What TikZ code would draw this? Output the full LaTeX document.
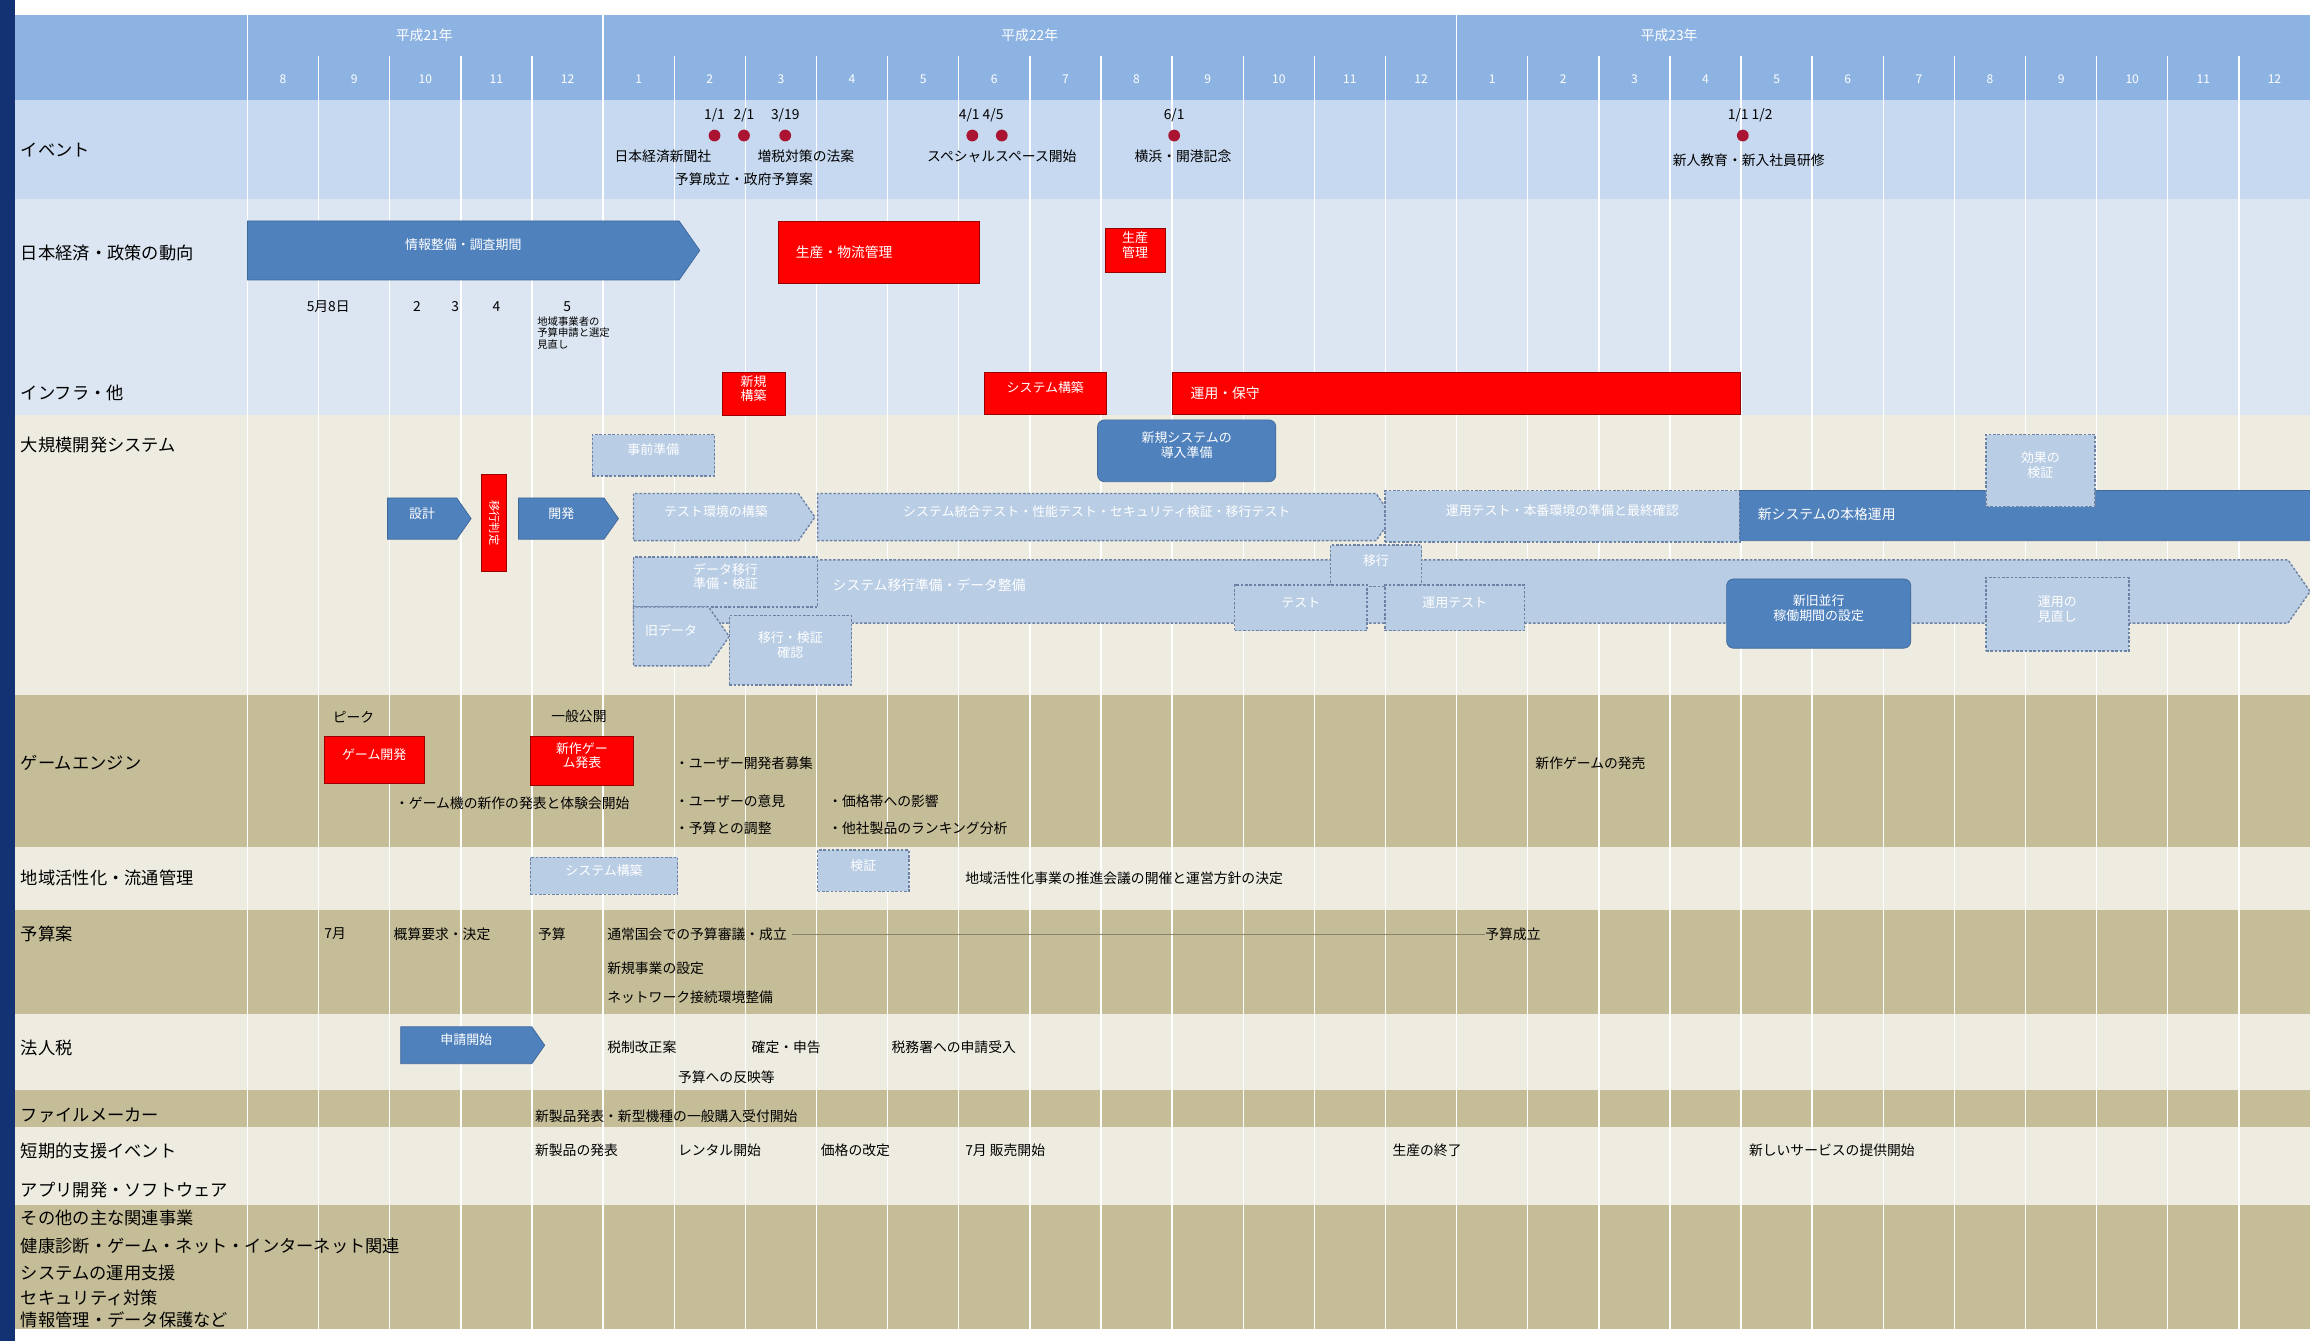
\documentclass[tikz,border=0pt]{standalone}
\usepackage{fontspec}
\setmainfont{Noto Sans CJK JP}
\usetikzlibrary{shapes.symbols,shapes.misc,positioning,fit}

\definecolor{navy}{RGB}{18,50,116}
\definecolor{hdrblue}{RGB}{141,179,226}
\definecolor{evtblue}{RGB}{198,217,240}
\definecolor{skyblue}{RGB}{220,230,242}
\definecolor{cream}{RGB}{238,236,225}
\definecolor{khaki}{RGB}{196,189,151}
\definecolor{barblue}{RGB}{79,129,189}
\definecolor{planblue}{RGB}{185,205,229}
\definecolor{planedge}{RGB}{110,130,165}
\definecolor{dotred}{RGB}{170,20,50}

\begin{document}
\begin{tikzpicture}[x=0.3mm, y=-0.3mm,
  rowlbl/.style={anchor=west, inner sep=0, font=\fontsize{10}{11}\selectfont},
  note/.style={anchor=west, inner sep=0, font=\fontsize{8}{9}\selectfont},
  cnote/.style={inner sep=0, font=\fontsize{8}{9}\selectfont, align=center},
  tiny/.style={anchor=west, inner sep=0, font=\fontsize{6}{6.5}\selectfont, align=left},
  wnote/.style={note, text=white},
  month/.style={inner sep=0, text=white, font=\fontsize{7}{8}\selectfont},
  yearlbl/.style={inner sep=0, text=white, font=\fontsize{8}{9}\selectfont},
  redbox/.style={draw=red!60!black, fill=red, text=white, inner sep=0, font=\fontsize{7.5}{8.5}\selectfont, align=center},
  bluearrow/.style={signal, signal to=east, signal pointer angle=110, draw=barblue!80!black, fill=barblue, text=white, inner sep=0, font=\fontsize{7.5}{8.5}\selectfont},
  bluebox/.style={rounded corners=4pt, draw=barblue!80!black, fill=barblue, text=white, inner sep=0, font=\fontsize{7.5}{8.5}\selectfont, align=left},
  planbox/.style={dash pattern=on 1.5pt off 1pt, line width=0.8pt, draw=planedge, fill=planblue, text=white, inner sep=0, font=\fontsize{7.5}{8.5}\selectfont, align=center},
  planarrow/.style={planbox, signal, signal to=east, signal pointer angle=110},
  evdot/.style={circle, fill=dotred, inner sep=0, minimum size=2.4mm}
]
  % page and row bands
  \useasboundingbox (0,0) rectangle (1568,910);
  \fill[white] (0,0) rectangle (1568,910);
  \fill[navy] (0,0) rectangle (10,910);
  \fill[hdrblue] (10,10) rectangle (1568,68);
  \fill[evtblue] (10,68) rectangle (1568,135);
  \fill[skyblue] (10,135) rectangle (1568,282);
  \fill[cream] (10,282) rectangle (1568,472);
  \fill[khaki] (10,472) rectangle (1568,575);
  \fill[cream] (10,575) rectangle (1568,618);
  \fill[khaki] (10,618) rectangle (1568,688);
  \fill[cream] (10,688) rectangle (1568,740);
  \fill[khaki] (10,740) rectangle (1568,765);
  \fill[cream] (10,765) rectangle (1568,818);
  \fill[khaki] (10,818) rectangle (1568,902);

  % month grid
  \foreach \i in {1,...,28}
    \draw[white, line width=0.8pt] ({168+\i*48.276},38) -- ({168+\i*48.276},902);
  \foreach \gx in {168,409.4,988.7}
    \draw[white, line width=1pt] (\gx,10) -- (\gx,902);
  \foreach \m [count=\i from 0] in {8,9,10,11,12,1,2,3,4,5,6,7,8,9,10,11,12,1,2,3,4,5,6,7,8,9,10,11,12}
    \node[month] (m\i) at ({168+(\i+0.5)*48.276},54) {\m};
  \node[yearlbl] (y21) at (288,24) {平成21年};
  \node[yearlbl] (y22) at (699,24) {平成22年};
  \node[yearlbl] (y23) at (1133,24) {平成23年};

  % row labels
  \node[rowlbl] (r1) at (14,102) {イベント};
  \node[rowlbl] (r2) at (14,172) {日本経済・政策の動向};
  \node[rowlbl] (r3) at (14,267) {インフラ・他};
  \node[rowlbl] (r4) at (14,302) {大規模開発システム};
  \node[rowlbl] (r5) at (14,518) {ゲームエンジン};
  \node[rowlbl] (r6) at (14,596) {地域活性化・流通管理};
  \node[rowlbl] (r7) at (14,634) {予算案};
  \node[rowlbl] (r8) at (14,711) {法人税};
  \node[rowlbl] (r9) at (14,757) {ファイルメーカー};
  \node[rowlbl] (r10) at (14,781) {短期的支援イベント};
  \node[rowlbl] (r11) at (14,808) {アプリ開発・ソフトウェア};
  \node[rowlbl] (r12) at (14,827) {その他の主な関連事業};
  \node[rowlbl] (r13) at (14,846) {健康診断・ゲーム・ネット・インターネット関連};
  \node[rowlbl] (r14) at (14,864) {システムの運用支援};
  \node[rowlbl] (r15) at (14,881) {セキュリティ対策};
  \node[rowlbl] (r16) at (14,896) {情報管理・データ保護など};

  % events
  \node[evdot] (e1) at (485,92) {};
  \node[evdot] (e2) at (505,92) {};
  \node[evdot] (e3) at (533,92) {};
  \node[cnote, above=1.5mm of e1] {1/1};
  \node[cnote, above=1.5mm of e2] {2/1};
  \node[cnote, above=1.5mm of e3] {3/19};
  \node[cnote] (ev1) at (450,106) {日本経済新聞社};
  \node[cnote] (ev2) at (547,106) {増税対策の法案};
  \node[cnote] (ev3) at (505,122) {予算成立・政府予算案};
  \node[evdot] (e4) at (660,92) {};
  \node[evdot] (e5) at (680,92) {};
  \node[cnote] at (666,78) {4/1 4/5};
  \node[cnote] (ev4) at (680,106) {スペシャルスペース開始};
  \node[evdot] (e6) at (797,92) {};
  \node[cnote, above=1.5mm of e6] {6/1};
  \node[cnote] (ev5) at (803,106) {横浜・開港記念};
  \node[evdot] (e7) at (1183,92) {};
  \node[cnote] at (1188,78) {1/1 1/2};
  \node[cnote] (ev6) at (1187,109) {新人教育・新入社員研修};

  % economy / policy
  \node[bluearrow, fit={(168,150)(461,190)}] (survey) {情報整備・調査期間};
  \node[redbox, fit={(528,150)(665,192)}] (prod) {};
  \node[wnote] at (540,171) {生産・物流管理};
  \node[redbox, fit={(750,155)(791,185)}] (ctrl) {生産\\管理};
  \node[note] (n1) at (208,208) {5月8日};
  \node[cnote] (n2) at (283,208) {2};
  \node[cnote] (n3) at (309,208) {3};
  \node[cnote] (n4) at (337,208) {4};
  \node[cnote] (n5) at (385,208) {5};
  \node[tiny, below right=1mm and -7mm of n5] (n6) {地域事業者の\\予算申請と選定\\見直し};

  % infrastructure
  \node[redbox, fit={(490,253)(533,282)}] (infra1) {新規\\構築};
  \node[redbox, fit={(668,253)(751,281)}] (infra2) {システム構築};
  \node[redbox, fit={(796,253)(1181,281)}] (infra3) {};
  \node[wnote] at (808,267) {運用・保守};

  % large system
  \node[planbox, fit={(402,295)(485,323)}] (prep) {事前準備};
  \node[bluebox, fit={(745,285)(866,327)}] (newsys) {新規システムの\\導入準備};
  \node[bluearrow, fit={(263,338)(310,366)}] (design) {設計};
  \node[redbox, fit={(327,322)(344,388)}] (gate) {};
  \node[rotate=-90, text=white, inner sep=0, font=\fontsize{6.5}{7}\selectfont] at (gate.center) {移行判定};
  \node[bluearrow, fit={(352,338)(410,366)}] (dev) {開発};
  \node[planarrow, fit={(430,335)(542,367)}] (testenv) {テスト環境の構築};
  \node[planarrow, fit={(555,335)(934,367)}] (inttest) {システム統合テスト・性能テスト・セキュリティ検証・移行テスト};
  \node[planbox, fit={(940,333)(1181,368)}] (optest) {運用テスト・本番環境の準備と最終確認};
  \node[rounded rectangle, rounded rectangle left arc=none, draw=barblue!80!black, fill=barblue, inner sep=0, fit={(1181,333)(1568,367)}] (live) {};
  \node[wnote] at (1193,349) {新システムの本格運用};
  \node[planbox, fit={(1348,295)(1422,344)}] (eval) {効果の\\検証};
  \node[planarrow, fit={(430,380)(1553,423)}] (migr) {};
  \node[wnote] at (565,397) {システム移行準備・データ整備};
  \node[planbox, fit={(430,378)(555,412)}] (dataprep) {データ移行\\準備・検証};
  \node[planbox, fit={(903,370)(965,398)}] (move) {移行};
  \node[planbox, fit={(838,397)(928,428)}] (test2) {テスト};
  \node[planbox, fit={(940,397)(1035,428)}] (optest2) {運用テスト};
  \node[bluebox, fit={(1172,393)(1297,440)}] (parallel) {新旧並行\\稼働期間の設定};
  \node[planbox, fit={(1348,392)(1445,442)}] (review) {運用の\\見直し};
  \node[planarrow, fit={(430,412)(481,452)}] (olddata) {旧データ};
  \node[planbox, fit={(495,418)(578,465)}] (check) {移行・検証\\確認};

  % game engine
  \node[cnote] (peak) at (240,487) {ピーク};
  \node[redbox, fit={(220,500)(288,532)}] (gdev) {ゲーム開発};
  \node[cnote] (pub) at (393,486) {一般公開};
  \node[redbox, fit={(360,500)(430,533)}] (gpub) {新作ゲー\\ム発表};
  \node[note] (g1) at (268,545) {・ゲーム機の新作の発表と体験会開始};
  \node[note] (g2) at (458,518) {・ユーザー開発者募集};
  \node[note] (g3) at (458,544) {・ユーザーの意見};
  \node[note] (g4) at (458,562) {・予算との調整};
  \node[note] (g5) at (562,544) {・価格帯への影響};
  \node[note] (g6) at (562,562) {・他社製品のランキング分析};
  \node[note] (g7) at (1042,518) {新作ゲームの発売};

  % regional
  \node[planbox, fit={(360,582)(460,607)}] (reg1) {システム構築};
  \node[planbox, fit={(555,577)(617,605)}] (reg2) {検証};
  \node[note] (reg3) at (655,596) {地域活性化事業の推進会議の開催と運営方針の決定};

  % budget
  \node[note] (b1) at (220,634) {7月};
  \node[note] (b2) at (267,634) {概算要求・決定};
  \node[note] (b3) at (365,634) {予算};
  \node[note] (b4) at (412,634) {通常国会での予算審議・成立};
  \node[note] (b5) at (1008,634) {予算成立};
  \draw[khaki!70!black, line width=0.4pt] (b4.east) ++(3,0) -- (b5.west);
  \node[note] (b6) at (412,657) {新規事業の設定};
  \node[note] (b7) at (412,677) {ネットワーク接続環境整備};

  % corporate tax
  \node[bluearrow, fit={(272,697)(361,722)}] (apply) {申請開始};
  \node[note] (t1) at (412,711) {税制改正案};
  \node[note] (t2) at (510,711) {確定・申告};
  \node[note] (t3) at (605,711) {税務署への申請受入};
  \node[note] (t4) at (460,731) {予算への反映等};

  % file maker
  \node[note] (f1) at (363,758) {新製品発表・新型機種の一般購入受付開始};

  % short-term
  \node[note] (s1) at (363,781) {新製品の発表};
  \node[note] (s2) at (460,781) {レンタル開始};
  \node[note] (s3) at (557,781) {価格の改定};
  \node[note] (s4) at (655,781) {7月 販売開始};
  \node[note] (s5) at (945,781) {生産の終了};
  \node[note] (s6) at (1187,781) {新しいサービスの提供開始};
\end{tikzpicture}
\end{document}
